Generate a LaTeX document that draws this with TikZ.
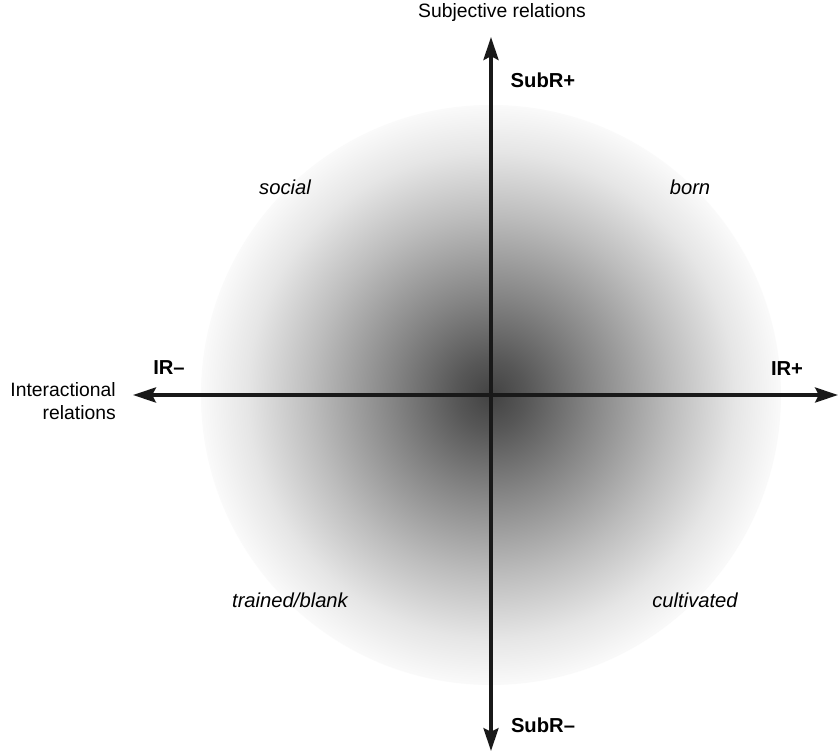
\documentclass[tikz,border=0pt]{standalone}
\usepackage{fontspec}
\setmainfont{Liberation Sans}
\usetikzlibrary{arrows.meta}
\pgfdeclareradialshading{halo}{\pgfpoint{0bp}{0bp}}{color(0bp)=(black!74); color(3bp)=(black!66); color(8.5bp)=(black!48); color(15.5bp)=(black!26); color(21bp)=(black!10); color(25bp)=(black!2); color(50bp)=(white)}
\tikzset{
  axislab/.style={font=\fontsize{11}{13}\selectfont},
  polelab/.style={font=\fontsize{11.5}{13}\selectfont\bfseries},
  quadlab/.style={font=\fontsize{11.5}{13}\selectfont\itshape}
}
\begin{document}
\begin{tikzpicture}[>={Stealth[length=13pt,width=8.5pt,inset=2pt]},line join=round]
			\useasboundingbox (-9.82,-7.16) rectangle (6.96,7.9);
			\fill[white] (-9.82,-7.16) rectangle (6.96,7.9);
			\shade[shading=halo] (0,0) circle (5.8);
			
			\coordinate (O) at (0,0);
			\coordinate (W) at (-7.16,0);
			\coordinate (E) at (6.94,0);
			\coordinate (N) at (0,7.16);
			\coordinate (S) at (0,-7.12);
			
			\draw[line width=2pt,black!90,->] (O)--(W);
			\draw[line width=2pt,black!90,->] (O)--(E);
			\draw[line width=2pt,black!90,->] (O)--(N);
			\draw[line width=2pt,black!90,->] (O)--(S);
			
			\node[axislab] (subj) at (0.22,7.64) {Subjective relations};
			\node[axislab,align=right,anchor=east] (inter) at (-7.38,-0.12) {Interactional\\relations};
			
			\node[polelab] (subp) at (1.04,6.3) {SubR+};
			\node[polelab] (subm) at (1.04,-6.6) {SubR--};
			\node[polelab] (irm) at (-6.44,0.54) {IR--};
			\node[polelab] (irp) at (5.92,0.52) {IR+};
			
			\node[quadlab] (social) at (-4.12,4.16) {social};
			\node[quadlab] (born) at (3.98,4.16) {born};
			\node[quadlab] (trained) at (-4.02,-4.1) {trained/blank};
			\node[quadlab] (cultiv) at (4.08,-4.1) {cultivated};
			
			\end{tikzpicture}
\end{document}
